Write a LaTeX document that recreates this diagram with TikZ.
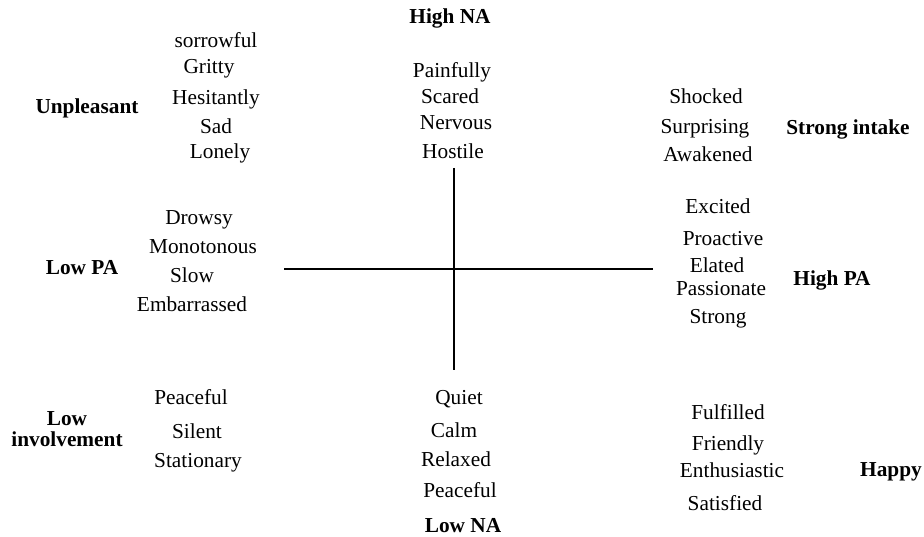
\documentclass[tikz,border=0pt]{standalone}
\usepackage{fontspec}
\setmainfont{Liberation Serif}
\begin{document}
\begin{tikzpicture}[
  x = 1pt, y = -1pt,
  word/.style = {font = \fontsize{21.3}{21}\selectfont, inner sep = 0pt,
    text height = 15pt, text depth = 3pt},
  pole/.style = {word, font = \fontsize{21.3}{21}\selectfont\bfseries},
  axis/.style = {line width = 1.8pt}
]
\useasboundingbox (0,0) rectangle (924,537);

% eixos
\coordinate (top) at (454,168);
\coordinate (bottom) at (454,370);
\coordinate (left) at (284,269);
\coordinate (right) at (653,269);
\draw[axis] (top) -- (bottom);
\draw[axis] (left) -- (right);

% polos
\node[pole] (highna) at (450,18) {High NA};
\node[pole] (lowna) at (463,526) {Low NA};
\node[pole] (unpleasant) at (87,108) {Unpleasant};
\node[pole] (strongintake) at (848,129) {Strong intake};
\node[pole] (lowpa) at (82,269) {Low PA};
\node[pole] (highpa) at (832,280) {High PA};
\node[pole, text height = {}, text depth = {}, align = center] (lowinv) at (67,429) {Low\\involvement};
\node[pole] (happy) at (891,470) {Happy};

% canto superior esquerdo
\node[word] (sorrowful) at (216,42) {sorrowful};
\node[word] (gritty) at (209,68) {Gritty};
\node[word] (hesitantly) at (216,99) {Hesitantly};
\node[word] (sad) at (216,128) {Sad};
\node[word] (lonely) at (220,153) {Lonely};

% alto NA
\node[word] (painfully) at (452,72) {Painfully};
\node[word] (scared) at (450,98) {Scared};
\node[word] (nervous) at (456,124) {Nervous};
\node[word] (hostile) at (453,153) {Hostile};

% canto superior direito
\node[word] (shocked) at (706,98) {Shocked};
\node[word] (surprising) at (705,128) {Surprising};
\node[word] (awakened) at (708,156) {Awakened};

% baixo PA
\node[word] (drowsy) at (199,219) {Drowsy};
\node[word] (monotonous) at (203,248) {Monotonous};
\node[word] (slow) at (192,277) {Slow};
\node[word] (embarrassed) at (192,306) {Embarrassed};

% alto PA
\node[word] (excited) at (718,208) {Excited};
\node[word] (proactive) at (723,240) {Proactive};
\node[word] (elated) at (717,267) {Elated};
\node[word] (passionate) at (721,290) {Passionate};
\node[word] (strong) at (718,318) {Strong};

% canto inferior esquerdo
\node[word] (peacefulinv) at (191,398) {Peaceful};
\node[word] (silent) at (197,432) {Silent};
\node[word] (stationary) at (198,461) {Stationary};

% baixo NA
\node[word] (quiet) at (459,398) {Quiet};
\node[word] (calm) at (454,431) {Calm};
\node[word] (relaxed) at (456,460) {Relaxed};
\node[word] (peacefulna) at (460,491) {Peaceful};

% canto inferior direito
\node[word] (fulfilled) at (728,413) {Fulfilled};
\node[word] (friendly) at (728,444) {Friendly};
\node[word] (enthusiastic) at (732,471) {Enthusiastic};
\node[word] (satisfied) at (725,504) {Satisfied};
\end{tikzpicture}
\end{document}
